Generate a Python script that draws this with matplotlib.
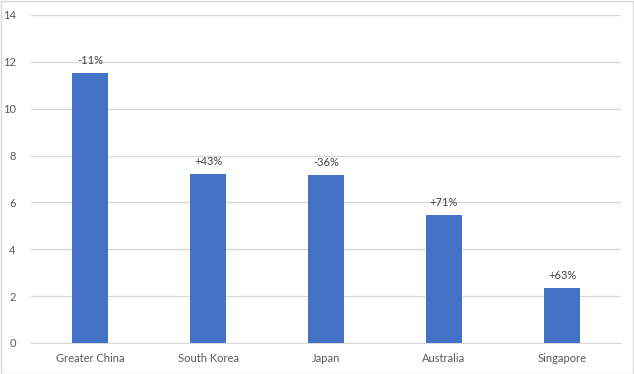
import matplotlib.pyplot as plt
from matplotlib.patches import Rectangle

# Values
regions = ["Greater China", "South Korea", "Japan", "Australia", "Singapore"]
values = [11.52, 7.21, 7.17, 5.48, 2.35]
changes = ["-11%", "+43%", "-36%", "+71%", "+63%"]

plt.rcParams["font.family"] = ["Lato", "DejaVu Sans"]

fig = plt.figure(figsize=(6.34, 3.74), dpi=100)
ax = fig.add_axes([0.049, 0.083, 0.9305, 0.877])

bars = ax.bar(regions, values, width=0.31, color="#4472C4", zorder=3)
ax.bar_label(bars, labels=changes, padding=5, fontsize=8, color="#404040")

ax.set_ylim(0, 14)
ax.set_yticks(range(0, 15, 2))
ax.set_xlim(-0.5, len(regions) - 0.5)
ax.grid(axis="y", color="#D9D9D9", linewidth=1, zorder=0)
ax.tick_params(axis="both", length=0, labelsize=8, labelcolor="#595959")
ax.tick_params(axis="y", pad=11)
ax.tick_params(axis="x", pad=7)
for side in ["top", "right", "left"]:
    ax.spines[side].set_visible(False)
ax.spines["bottom"].set_color("#D9D9D9")

# light border round the chart area, like Excel
fig.patches.append(Rectangle((0.001, 0.001), 0.997, 0.996, transform=fig.transFigure,
                             fill=False, edgecolor="#D9D9D9", linewidth=1))

fig.savefig("out.png", dpi=100)
